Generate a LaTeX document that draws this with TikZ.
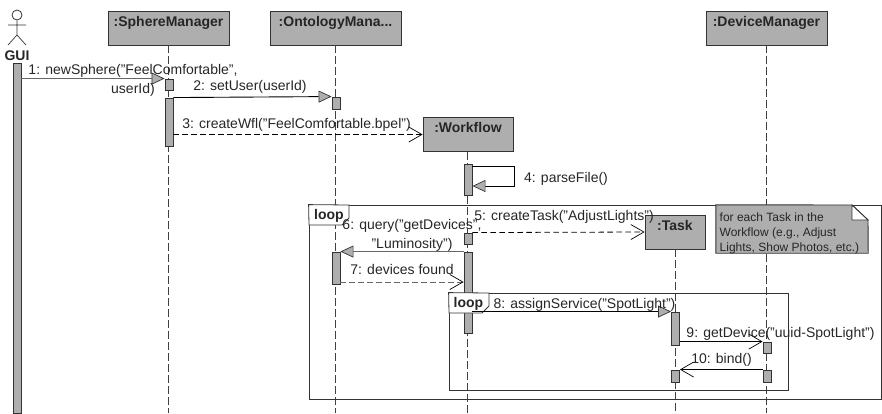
\documentclass[tikz,border=0pt]{standalone}
\usepackage{fontspec}
\setmainfont{Liberation Sans}
\usetikzlibrary{arrows.meta, positioning}
\definecolor{boxgray}{HTML}{AEAEAE}
\definecolor{msggray}{HTML}{666666}
\tikzset{x=1pt, y=-1pt,
every node/.style={font=\fontsize{14}{16}\selectfont, text=black!85, inner sep=0pt},
lifebox/.style={draw=black!80, fill=boxgray, line width=0.9pt, minimum width=#1, inner ysep=5pt, text height=10pt, text depth=14pt, font=\fontsize{14}{16}\bfseries\selectfont}, % header of a lifeline
activation/.style={draw=black!80, fill=boxgray, line width=0.9pt, minimum width=8pt, minimum height=#1},
lifeline/.style={draw=black!75, line width=0.7pt, dash pattern=on 8pt off 3pt},
frame/.style={draw=black!80, line width=0.8pt},
framelabel/.style={yshift=-1pt, font=\fontsize{14}{16}\bfseries\selectfont},
call/.style={draw=black, line width=0.9pt, -{Triangle[length=13pt, width=12pt, fill=boxgray, line width=0.7pt, color=black!80, fill=boxgray]}},
reply/.style={draw=black, line width=0.8pt, dash pattern=on 5.5pt off 3.5pt, -{Straight Barb[length=13pt, width=15pt, line width=0.7pt, color=black]}},
plain/.style={draw=black, line width=0.8pt, -{Straight Barb[length=13pt, width=15pt, line width=0.7pt]}},
msg/.style={align=center, yshift=-1.5pt, font=\fontsize{14}{18.5}\selectfont},
}
\begin{document}
\begin{tikzpicture}
    \useasboundingbox (0,0) rectangle (882,413);
    % headers
    \node[lifebox=121pt] (sphere) at (168.5,28) {:SphereManager};
    \node[lifebox=131pt] (onto) at (335.5,28) {:OntologyMana...};
    \node[lifebox=90pt] (wfl) at (468,134.5) {:Workflow};
    \node[lifebox=60pt] (task) at (675,232) {:Task};
    \node[lifebox=121pt] (device) at (766.5,28) {:DeviceManager};
    \coordinate (sphereEnd) at (168,413);
    \coordinate (ontoEnd) at (335,413);
    \coordinate (wflEnd) at (467,413);
    \coordinate (taskEnd) at (675,413);
    \coordinate (deviceEnd) at (766,413);
    \draw[lifeline]
    (sphere.south -| sphereEnd) -- (sphereEnd)
    (onto.south -| ontoEnd) -- (ontoEnd)
    (wfl.south -| wflEnd) -- (wflEnd)
    (task.south -| taskEnd) -- (taskEnd)
    (device.south -| deviceEnd) -- (deviceEnd)
    ;
    % actor
    \node[draw=black!80, circle, line width=0.8pt, minimum size=10pt] (head) at (17,15) {};
    \coordinate (hip) at (17,35);
    \coordinate (armL) at (8,25);
    \coordinate (armR) at (26,25);
    \coordinate (footL) at (8,45);
    \coordinate (footR) at (26,45);
    \draw[black!80, line width=0.7pt] (head.south) -- (hip) (armL) -- (armR) (footL) -- (hip) -- (footR);
    \node[font=\fontsize{14}{16}\bfseries\selectfont] (gui) at (17,55.5) {GUI};
    % activations
    \node[activation=350pt] (guiA) at (17,238) {};
    \node[activation=11pt] (sphereA) at (169,84.5) {};
    \node[activation=48pt] (sphereB) at (169,122) {};
    \node[activation=12pt] (ontoA) at (336,103) {};
    \node[activation=31pt] (wflA) at (468,179.5) {};
    \node[activation=11pt] (wflB) at (468,238.5) {};
    \node[activation=81pt] (wflC) at (468,292.5) {};
    \node[activation=32pt] (ontoB) at (336,268) {};
    \node[activation=33pt] (taskA) at (675.5,328.5) {};
    \node[activation=12pt] (taskB) at (675.5,376) {};
    \node[activation=11pt] (deviceA) at (767,347.5) {};
    \node[activation=12pt] (deviceB) at (767,376) {};
    % loop frames
    \node[frame, draw, minimum width=572pt, minimum height=194pt] (outer) at (595,302) {};
    \node[frame, draw, minimum width=339pt, minimum height=97pt] (inner) at (618.5,341.5) {};
    \coordinate (outerA) at (349,205);
    \coordinate (outerB) at (349,218);
    \coordinate (outerC) at (342,225);
    \coordinate (outerD) at (309,225);
    \coordinate (innerA) at (489,293);
    \coordinate (innerB) at (489,306);
    \coordinate (innerC) at (482,313);
    \coordinate (innerD) at (449,313);
    \draw[frame, fill=white] (outer.north west) -- (outerA) -- (outerB) -- (outerC) -- (outerD) -- cycle;
    \draw[frame, fill=white] (inner.north west) -- (innerA) -- (innerB) -- (innerC) -- (innerD) -- cycle;
    \node[framelabel] (outerLoop) at (329,215) {loop};
    \node[framelabel] (innerLoop) at (468.5,303) {loop};
    % note
    \node[minimum width=152pt, minimum height=48pt] (note) at (792,229) {};
    \coordinate (noteA) at (852,205);
    \coordinate (noteB) at (868,220);
    \coordinate (noteC) at (852,220);
    \draw[black!80, line width=0.9pt, fill=boxgray] (note.north west) -- (noteA) -- (noteB) -- (note.south east) -- (note.south west) -- cycle;
    \draw[black!80, line width=0.9pt, fill=white] (noteA) -- (noteB) -- (noteC) -- cycle;
    \node[anchor=north west, align=left, font=\fontsize{12}{15.2}\selectfont] (noteText) at (719.5,212.5) {for each Task in the\\Workflow (e.g., Adjust\\Lights, Show Photos, etc.)};
    % messages
    \coordinate (foundY) at (400,282);
    \draw[call, draw=msggray] (guiA.east |- sphereA.north) -- (sphereA.north west);
    \draw[call] (sphereB.north east) -- (ontoA.north west);
    \draw[reply] (sphereB.east |- wfl.west) -- (wfl.west);
    \coordinate (selfA) at (514,166);
    \coordinate (selfB) at (514,186);
    \draw[call] (wflA.east |- selfA) -- (selfA) -- (selfB) -- (wflA.east |- selfB);
    \draw[reply] (wflB.north east) -- (task.west);
    \draw[call, draw=msggray] (wflC.north west) -- (ontoB.north east);
    \draw[reply, draw=msggray] (ontoB.east |- foundY) -- (wflC.west |- foundY);
    \draw[call] (wflC.east |- taskA.north) -- (taskA.north west);
    \draw[plain] (taskA.east |- deviceA.north) -- (deviceA.north west);
    \draw[plain] (deviceB.north west) -- (taskB.north east);
    % message labels
    \node[msg] (m1) at (133,79) {1: newSphere("FeelComfortable",\\userId)};
    \node[msg] (m2) at (250,85) {2: setUser(userId)};
    \node[msg] (m3) at (296.5,123) {3: createWfl("FeelComfortable.bpel")};
    \node[msg] (m4) at (566,177) {4: parseFile()};
    \node[msg] (m5) at (564,215) {5: createTask("AdjustLights")};
    \node[msg] (m6) at (412,234) {6: query("getDevices",\\"Luminosity")};
    \node[msg] (m7) at (402,268) {7: devices found};
    \node[msg] (m8) at (584.5,303) {8: assignService("SpotLight")};
    \node[msg] (m9) at (780.5,332) {9: getDevice("uuid-SpotLight")};
    \node[msg] (m10) at (721.5,358) {10: bind()};
\end{tikzpicture}
\end{document}
